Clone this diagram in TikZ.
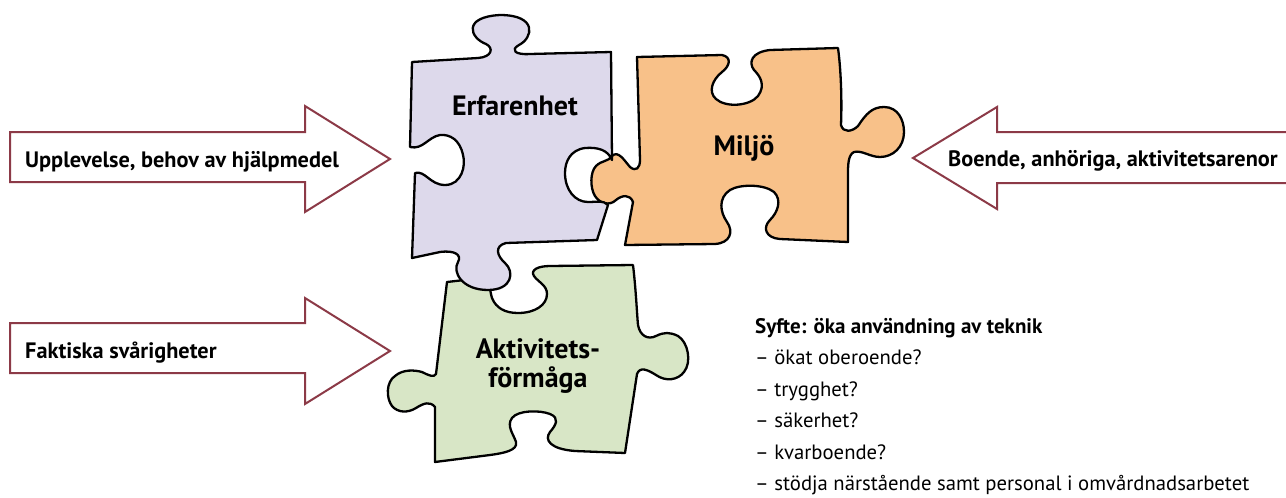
\documentclass[tikz,border=0pt]{standalone}
\usepackage{fontspec}
\setmainfont{PT Sans}
\definecolor{lilac}{HTML}{DDD9EB}
\definecolor{apricot}{HTML}{F8C189}
\definecolor{sage}{HTML}{D8E6C6}
\definecolor{wine}{HTML}{8C3A47}
\tikzset{
  piece/.style={draw=black, line width=2.3pt, line join=round},
  blockarrow/.style={draw=wine, line width=2pt, fill=white, line join=miter},
  arrowtext/.style={font=\bfseries\fontsize{22.3}{26}\selectfont, inner sep=0pt},
  piecetext/.style={font=\bfseries\fontsize{28}{32}\selectfont, inner sep=0pt},
  listtext/.style={font=\fontsize{20.7}{24}\selectfont, inner sep=0pt, anchor=base west},
}
\begin{document}
\begin{tikzpicture}[x=1pt, y=-1pt]
\clip (0,0) rectangle (1286,498);
\fill[white] (0,0) rectangle (1286,498);

% block arrows
\draw[blockarrow] (10,132) -- (305,132) -- (305,106) -- (390,159) -- (305,212) -- (305,182) -- (10,182) -- cycle;
\draw[blockarrow] (1292,132) -- (997,132) -- (997,107) -- (913,158) -- (997,209) -- (997,183) -- (1292,183);
\draw[blockarrow] (10,323) -- (305,323) -- (305,298) -- (390,351) -- (305,404) -- (305,373) -- (10,373) -- cycle;

\node[arrowtext, anchor=base west] (upplevelse) at (25,167) {Upplevelse, behov av hjälpmedel};
\node[arrowtext, anchor=base west] (boende) at (948,166) {Boende, anhöriga, aktivitetsarenor};
\node[arrowtext, anchor=base west] (faktiska) at (25,358) {Faktiska svårigheter};

% Miljö piece
\filldraw[piece, fill=apricot]
  (637,57) -- (722,55) .. controls (732,57) and (730,66) .. (722,72)
  .. controls (712,80) and (708,92) .. (716,99)
  .. controls (726,108) and (750,106) .. (758,96)
  .. controls (766,85) and (760,76) .. (754,70)
  .. controls (748,62) and (752,52) .. (770,50) -- (838,48)
  .. controls (841,70) and (842,100) .. (841,125)
  .. controls (843,133) and (852,132) .. (858,126)
  .. controls (866,114) and (872,107) .. (884,107)
  .. controls (898,107) and (904,120) .. (904,132)
  .. controls (904,147) and (893,157) .. (880,157)
  .. controls (870,157) and (862,150) .. (854,152)
  .. controls (848,155) and (848,165) .. (848,175) -- (848,242)
  -- (780,239) .. controls (766,238) and (762,228) .. (770,220)
  .. controls (778,212) and (782,200) .. (774,192)
  .. controls (764,184) and (740,184) .. (730,190)
  .. controls (718,198) and (720,212) .. (727,222)
  .. controls (734,232) and (730,243) .. (715,244) -- (625,245)
  -- (633,202) .. controls (630,194) and (622,195) .. (616,200)
  .. controls (610,206) and (600,204) .. (595,196)
  .. controls (590,188) and (590,172) .. (596,166)
  .. controls (602,160) and (608,162) .. (612,156)
  .. controls (618,150) and (624,160) .. (630,167)
  .. controls (636,172) and (640,168) .. (640,160) -- cycle;

% Aktivitetsförmåga piece
\filldraw[piece, fill=sage]
  (447,282) -- (482,278) .. controls (490,280) and (490,292) .. (492,298)
  .. controls (496,308) and (505,313) .. (518,313)
  .. controls (535,313) and (547,305) .. (547,294)
  .. controls (547,285) and (538,282) .. (534,276)
  .. controls (530,270) and (538,266) .. (550,266) -- (633,265)
  .. controls (636,290) and (637,315) .. (638,325)
  .. controls (640,336) and (648,340) .. (656,336)
  .. controls (664,332) and (670,332) .. (678,336)
  .. controls (688,342) and (692,362) .. (684,372)
  .. controls (678,380) and (666,382) .. (656,375)
  .. controls (648,370) and (640,366) .. (637,374) -- (625,453)
  -- (575,451) .. controls (550,449) and (544,440) .. (550,432)
  .. controls (556,425) and (560,418) .. (550,414)
  .. controls (540,410) and (518,410) .. (512,418)
  .. controls (506,426) and (514,435) .. (516,442)
  .. controls (518,450) and (505,453) .. (490,455) -- (435,462)
  -- (435,407) .. controls (430,401) and (424,403) .. (416,408)
  .. controls (408,413) and (398,413) .. (392,406)
  .. controls (386,398) and (386,382) .. (395,376)
  .. controls (403,369) and (415,370) .. (422,372)
  .. controls (428,375) and (434,378) .. (436,374) -- cycle;

% Erfarenhet piece
\filldraw[piece, fill=lilac]
  (412,62) -- (478,58) .. controls (492,57) and (494,48) .. (486,44)
  .. controls (470,38) and (462,17) .. (500,15)
  .. controls (538,15) and (533,38) .. (519,45)
  .. controls (510,50) and (515,55) .. (530,54) -- (611,52)
  -- (612,160) .. controls (608,150) and (598,147) .. (585,148)
  .. controls (570,150) and (565,162) .. (565,173)
  .. controls (565,190) and (575,202) .. (588,202)
  .. controls (598,202) and (603,200) .. (608,205) -- (597,240)
  -- (506,243) .. controls (494,246) and (497,256) .. (505,263)
  .. controls (515,272) and (512,290) .. (488,290)
  .. controls (462,290) and (452,272) .. (458,262)
  .. controls (462,255) and (455,250) .. (440,252) -- (412,258)
  -- (415,173) .. controls (425,170) and (430,185) .. (445,185)
  .. controls (462,185) and (466,165) .. (463,155)
  .. controls (460,140) and (450,134) .. (440,135)
  .. controls (428,137) and (423,150) .. (410,147) -- cycle;

\node[piecetext, anchor=base] (erfarenhet) at (515,115) {Erfarenhet};
\node[piecetext, anchor=base] (miljo) at (744,155) {Miljö};
\node[piecetext, anchor=base] (aktivitets) at (538,358) {Aktivitets-};
\node[piecetext, anchor=base] (formaga) at (538,387) {förmåga};

% purpose list
\node[listtext, font=\bfseries\fontsize{21}{24}\selectfont] (syfte) at (755,333) {Syfte: öka användning av teknik};
\node[listtext] (l1) at (755,364.5) {– ökat oberoende?};
\node[listtext] (l2) at (755,396) {– trygghet?};
\node[listtext] (l3) at (755,427.5) {– säkerhet?};
\node[listtext] (l4) at (755,459) {– kvarboende?};
\node[listtext] (l5) at (755,490.5) {– stödja närstående samt personal i omvårdnadsarbetet};
\end{tikzpicture}
\end{document}
